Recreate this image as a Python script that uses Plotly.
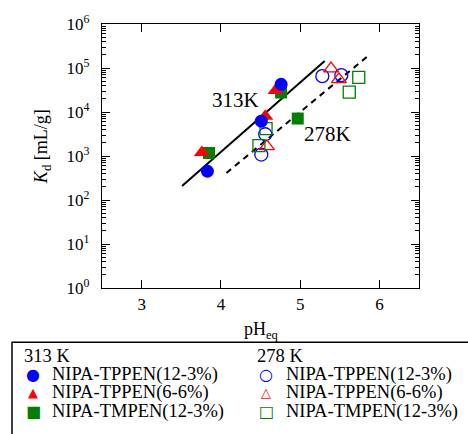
import plotly.graph_objects as go

# ---------------- data ----------------
b313_x = [3.83, 4.51, 4.76]
b313_y = [450, 6200, 42500]
r313_x = [3.76, 4.56, 4.69]
r313_y = [1200, 8050, 30700]
g313_x = [3.85, 4.76, 4.97]
g313_y = [1170, 27700, 7100]

b278_x = [4.51, 4.56, 5.28, 5.52]
b278_y = [1080, 3120, 65200, 68700]
r278_x = [4.58, 5.39, 5.49]
r278_y = [1660, 97000, 55000]
g278_x = [4.48, 4.57, 5.62, 5.74]
g278_y = [1720, 4190, 28200, 61000]

fit313_x = [3.51, 5.31]
fit313_y = [208, 144000]
fit278_x = [4.07, 5.84]
fit278_y = [412, 177000]

ytick_vals = [1, 10, 100, 1000, 10000, 100000, 1000000]
ytick_text = ["10<sup>%d</sup>" % i for i in range(7)]
xtick_vals = [3, 4, 5, 6]

names = ["NIPA-TPPEN(12-3%)", "NIPA-TPPEN(6-6%)", "NIPA-TMPEN(12-3%)"]
BLUE, RED, GREEN = "#0000ff", "#ff0000", "#008000"

FONT = "Liberation Serif"
W, H = 468, 434
ML, MR, MT, MB = 102, 49, 20, 146
PW, PH = W - ML - MR, H - MT - MB


def px(x):
    return (x - ML) / PW


def py(y):
    return (H - MB - y) / PH


fig = go.Figure()

# fitted lines
fig.add_trace(go.Scatter(x=fit313_x, y=fit313_y, mode="lines",
                         line=dict(color="black", width=2), showlegend=False))
fig.add_trace(go.Scatter(x=fit278_x, y=fit278_y, mode="lines",
                         line=dict(color="black", width=2, dash="6px,5px"), showlegend=False))

# 278 K open markers
fig.add_trace(go.Scatter(x=b278_x, y=b278_y, mode="markers", showlegend=False,
                         marker=dict(symbol="circle-open", size=13, color=BLUE, line=dict(width=1.3))))
fig.add_trace(go.Scatter(x=r278_x, y=r278_y, mode="markers", showlegend=False,
                         marker=dict(symbol="triangle-up-open", size=13, color=RED, line=dict(width=1.3))))
fig.add_trace(go.Scatter(x=g278_x, y=g278_y, mode="markers", showlegend=False,
                         marker=dict(symbol="square-open", size=12, color=GREEN, line=dict(width=1.3))))

# 313 K filled markers
fig.add_trace(go.Scatter(x=g313_x, y=g313_y, mode="markers", showlegend=False,
                         marker=dict(symbol="square", size=12, color=GREEN)))
fig.add_trace(go.Scatter(x=r313_x, y=r313_y, mode="markers", showlegend=False,
                         marker=dict(symbol="triangle-up", size=14, color=RED)))
fig.add_trace(go.Scatter(x=b313_x, y=b313_y, mode="markers", showlegend=False,
                         marker=dict(symbol="circle", size=13, color=BLUE)))

annotations = [
    dict(x=4.19, y=4.277, xref="x", yref="y", text="313K", showarrow=False,
         font=dict(family=FONT, size=21, color="black")),
    dict(x=5.35, y=3.494, xref="x", yref="y", text="278K", showarrow=False,
         font=dict(family=FONT, size=21, color="black")),
    # axis titles
    dict(x=px(261), y=py(331), xref="paper", yref="paper", text="pH<sub>eq</sub>",
         showarrow=False, xanchor="center", yanchor="middle",
         font=dict(family=FONT, size=18, color="black")),
    dict(x=px(42), y=py(145), xref="paper", yref="paper", text="<i>K</i><sub>d</sub> [mL/g]",
         showarrow=False, textangle=-90, xanchor="center", yanchor="middle",
         font=dict(family=FONT, size=18, color="black")),
]

# legend block (annotations)
LEG_FS = 18.5
headers = [("313 K", 22), ("278 K", 255)]
for txt, hx in headers:
    annotations.append(dict(x=px(hx), y=py(357), xref="paper", yref="paper", text=txt,
                            showarrow=False, xanchor="left", yanchor="middle",
                            font=dict(family=FONT, size=LEG_FS, color="black")))
rows_y = [376, 394, 413]
glyphs_filled = [("\u25cf", BLUE, 16), ("\u25b2", RED, 13), ("\u25a0", GREEN, 16)]
glyphs_open = [("\u25cb", BLUE, 16), ("\u25b3", RED, 13), ("\u25a1", GREEN, 16)]
for i, ry in enumerate(rows_y):
    for (g, c, fs), mx, tx in [(glyphs_filled[i], 33, 50), (glyphs_open[i], 266, 284)]:
        annotations.append(dict(x=px(mx), y=py(ry), xref="paper", yref="paper", text=g,
                                showarrow=False, xanchor="center", yanchor="middle",
                                font=dict(family="DejaVu Sans", size=fs, color=c)))
        annotations.append(dict(x=px(tx), y=py(ry), xref="paper", yref="paper", text=names[i],
                                showarrow=False, xanchor="left", yanchor="middle",
                                font=dict(family=FONT, size=LEG_FS, color="black")))

shapes = [dict(type="rect", xref="paper", yref="paper", x0=px(12), x1=px(W + 20),
               y0=py(343), y1=py(H + 20), line=dict(color="black", width=1.5),
               fillcolor="rgba(0,0,0,0)")]

minor_vals = [m * 10 ** k for k in range(6) for m in range(2, 10)]

fig.update_layout(
    width=W, height=H,
    margin=dict(l=ML, r=MR, t=MT, b=MB, pad=0),
    paper_bgcolor="white", plot_bgcolor="white",
    font=dict(family=FONT, size=17, color="black"),
    annotations=annotations, shapes=shapes,
    showlegend=False,
    xaxis=dict(range=[2.5, 6.5], tickvals=xtick_vals, ticks="inside", ticklen=8,
               tickcolor="black", showline=True, linecolor="black", linewidth=1.2,
               mirror="ticks", showgrid=False, zeroline=False,
               tickfont=dict(family=FONT, size=17)),
    yaxis=dict(type="log", range=[0, 6], tickvals=ytick_vals, ticktext=ytick_text,
               ticks="inside", ticklen=8, tickcolor="black", showline=True,
               linecolor="black", linewidth=1.2, mirror="ticks", showgrid=False,
               zeroline=False, tickfont=dict(family=FONT, size=17), ticklabelstandoff=8,
               minor=dict(tickvals=minor_vals, ticks="inside", ticklen=4,
                          tickcolor="black", showgrid=False)),
)

fig.write_html(
    "out.html",
    config={"displayModeBar": False},
    post_script="document.documentElement.style.margin='0';document.body.style.margin='0';"
                "document.body.style.padding='0';document.documentElement.style.overflow='hidden';",
)
